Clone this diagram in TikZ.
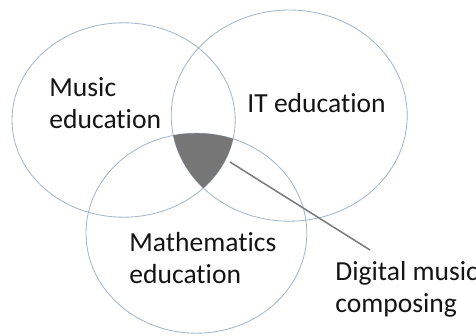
\documentclass[tikz,border=0pt]{standalone}
\usepackage{fontspec}
\setmainfont{Carlito}[Ligatures=NoCommon]
\definecolor{ringline}{RGB}{165,182,200}
\definecolor{coregray}{RGB}{118,118,118}
\definecolor{leadgray}{RGB}{125,125,125}

\begin{document}
\begin{tikzpicture}[line width=0.6pt,
    ring/.style={draw=ringline},
    lbl/.style={inner sep=0pt,anchor=base west,align=left,text=black!92,
                font=\fontsize{19.6}{22.2}\selectfont}]
  \useasboundingbox (0,0) rectangle (11.9,-8.375);
  % the three fields
  \draw[ring] (3.09,-3.0) ellipse (2.79 and 2.43);
  \draw[ring] (7.23,-2.89) ellipse (2.95 and 2.64);
  \draw[ring] (4.91,-5.83) ellipse (2.76 and 2.5);
  % common part of all three
  \begin{scope}
    \clip (3.09,-3.0) ellipse (2.79 and 2.43);
    \clip (7.23,-2.89) ellipse (2.95 and 2.64);
    \fill[coregray] (4.91,-5.83) ellipse (2.76 and 2.5);
  \end{scope}
  % labels sit on the baseline of their last line
  \node[lbl] (music) at (1.225,-3.2) {Music\\education};
  \node[lbl] (itedu) at (6.175,-2.8) {IT education};
  \node[lbl] (maths) at (3.225,-7.075) {Mathematics\\education};
  \node[lbl] (dmc) at (8.375,-7.8) {Digital music\\composing};
  % pointer to the shaded part
  \coordinate (dmcTip) at (5.75,-4.05);
  \coordinate (dmcEnd) at (9.25,-6.25);
  \draw[leadgray,line width=1.1pt] (dmcTip) -- (dmcEnd);
\end{tikzpicture}
\end{document}
